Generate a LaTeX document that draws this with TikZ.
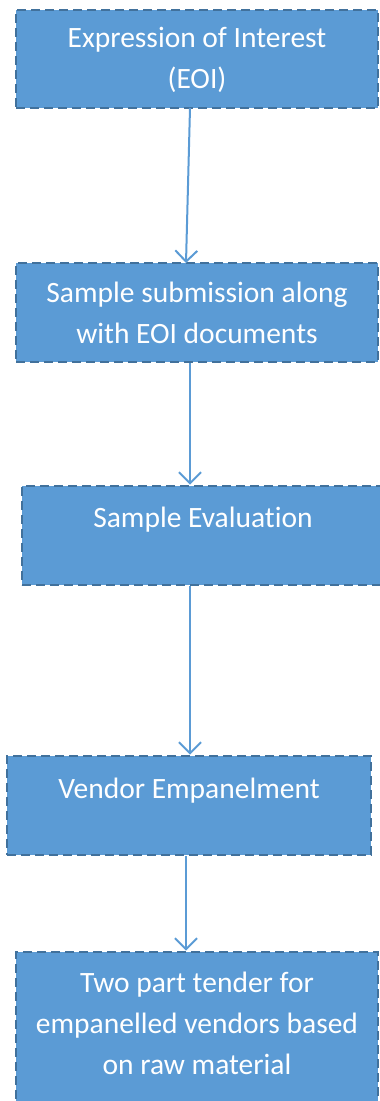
\documentclass[tikz,border=0pt]{standalone}
\usepackage{fontspec}
\setmainfont{Carlito}[Ligatures={NoCommon,NoRare}]
\usetikzlibrary{arrows.meta}
\definecolor{boxfill}{HTML}{5B9BD5}
\definecolor{boxline}{HTML}{41719C}
\begin{document}
\begin{tikzpicture}[x=1pt,y=-1pt,
  flowbox/.style={draw=boxline,fill=boxfill,line width=2.8pt,dash pattern=on 9pt off 5pt,inner sep=0pt},
  boxtext/.style={text=white,align=center,inner sep=0pt,font=\fontsize{29.5}{41}\selectfont},
  flowarrow/.style={draw=boxfill,line width=2pt,-{Straight Barb[length=11pt,width=22pt,line width=2pt]}}]
\useasboundingbox (0,0) rectangle (380,1101);
\clip (0,0) rectangle (380,1101);
\node[flowbox,minimum width=362pt,minimum height=98pt] (b1) at (197,59) {};
\node[flowbox,minimum width=362pt,minimum height=99pt] (b2) at (197,312.5) {};
\node[flowbox,minimum width=370pt,minimum height=99pt] (b3) at (207,535.5) {};
\node[flowbox,minimum width=364pt,minimum height=99pt] (b4) at (189,805.5) {};
\node[flowbox,minimum width=362pt,minimum height=160pt] (b5) at (197,1032) {};
\node[boxtext] (t1) at (197,60) {Expression of Interest\\(EOI)};
\node[boxtext] (t2) at (197,313) {Sample submission along\\with EOI documents};
\node[boxtext] (t3) at (203,520) {Sample Evaluation};
\node[boxtext] (t4) at (189,791) {Vendor Empanelment};
\node[boxtext] (t5) at (197,1023) {Two part tender for\\empanelled vendors based\\on raw material};
\coordinate (a1s) at (190,108);
\coordinate (a1e) at (186,263);
\draw[flowarrow] (a1s) -- (a1e);
\draw[flowarrow] (b2.south -| 190,0) -- (b3.north -| 190,0);
\draw[flowarrow] (b3.south -| 190,0) -- (b4.north -| 190,0);
\draw[flowarrow] (b4.south -| 186,0) -- (b5.north -| 186,0);
\end{tikzpicture}
\end{document}
